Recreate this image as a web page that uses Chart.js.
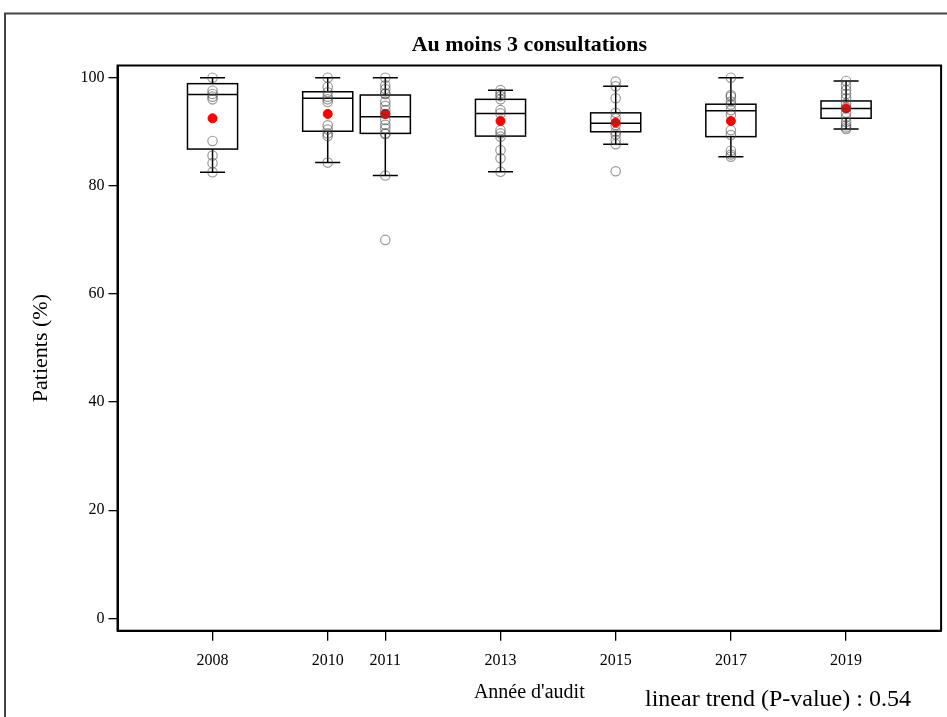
<!DOCTYPE html>
<html>
<head>
<meta charset="utf-8">
<script src="https://cdn.jsdelivr.net/npm/chart.js@4"></script>
<style>
  body { margin: 0; background: #fff; }
  canvas { display: block; }
</style>
</head>
<body>
<canvas id="chart" width="947" height="717"></canvas>
<script>
// audit years and box statistics (% of patients)
const years = [2008, 2010, 2011, 2013, 2015, 2017, 2019];
const whiskerHigh = [100, 100, 100, 97.7, 98.4, 100, 99.4];
const q3 = [98.9, 97.4, 96.8, 96.0, 93.5, 95.1, 95.7];
const medians = [96.9, 96.2, 92.8, 93.4, 91.6, 93.9, 94.3];
const q1 = [86.8, 90.1, 89.7, 89.2, 90.0, 89.1, 92.5];
const whiskerLow = [82.5, 84.3, 81.9, 82.6, 87.7, 85.4, 90.5];
const means = [92.5, 93.3, 93.3, 92.0, 91.7, 92.0, 94.3];

// individual centre values per year
const points2008 = [100, 97.6, 97.0, 96.5, 96.0, 88.3, 85.6, 84.2, 82.5];
const points2010 = [100, 98.3, 97.3, 96.5, 96.0, 95.5, 91.2, 90.4, 89.7, 89.2, 84.3];
const points2011 = [100, 98.6, 97.9, 97.1, 97.0, 95.6, 94.8, 94.0, 93.3, 92.2, 91.3, 90.6, 89.7, 89.6, 81.9, 70.0];
const points2013 = [97.7, 97.1, 96.6, 96.0, 94.0, 93.4, 90.3, 89.7, 89.1, 86.6, 85.1, 82.6];
const points2015 = [99.3, 98.4, 96.2, 93.5, 92.5, 91.2, 90.0, 89.5, 88.5, 87.7, 82.7];
const points2017 = [100, 96.8, 96.5, 95.6, 95.0, 94.0, 93.1, 90.3, 89.4, 86.5, 85.8, 85.4];
const points2019 = [99.4, 98.5, 97.7, 97.0, 96.2, 95.2, 94.5, 93.5, 92.7, 91.8, 91.2, 90.8, 90.5];
const pointsByYear = [points2008, points2010, points2011, points2013, points2015, points2017, points2019];

const yTicks = [0, 20, 40, 60, 80, 100];

const chartTitle = 'Au moins 3 consultations';
const trendNote = 'linear trend (P-value) : 0.54';
const serif = 'Liberation Serif';

const pointData = [];
pointsByYear.forEach((list, i) => {
    list.forEach(v => pointData.push({ x: years[i], y: v }));
});
const meanData = years.map((y, i) => ({ x: y, y: means[i] }));

// boxes and whiskers, drawn under the points
const boxPlugin = {
    id: 'boxes',
    beforeDatasetsDraw(chart) {
        const ctx = chart.ctx;
        const xs = chart.scales.x;
        const ys = chart.scales.y;
        ctx.save();
        ctx.strokeStyle = '#000';
        ctx.lineWidth = 1.5;
        years.forEach((yr, i) => {
            const x = xs.getPixelForValue(yr);
            const half = xs.getPixelForValue(yr + 0.435) - x;
            const cap = half / 2;
            const top = ys.getPixelForValue(q3[i]);
            const bot = ys.getPixelForValue(q1[i]);
            const med = ys.getPixelForValue(medians[i]);
            const hi = ys.getPixelForValue(whiskerHigh[i]);
            const lo = ys.getPixelForValue(whiskerLow[i]);
            ctx.strokeRect(x - half, top, half * 2, bot - top);
            ctx.beginPath();
            ctx.moveTo(x - half, med); ctx.lineTo(x + half, med);
            ctx.moveTo(x, top); ctx.lineTo(x, hi);
            ctx.moveTo(x - cap, hi); ctx.lineTo(x + cap, hi);
            ctx.moveTo(x, bot); ctx.lineTo(x, lo);
            ctx.moveTo(x - cap, lo); ctx.lineTo(x + cap, lo);
            ctx.stroke();
        });
        ctx.restore();
    }
};

// plot frame, outer frame, title (centred on the plot) and the trend note
const framePlugin = {
    id: 'frame',
    afterDraw(chart) {
        const ctx = chart.ctx;
        const a = chart.chartArea;
        ctx.save();
        ctx.strokeStyle = '#000';
        ctx.lineWidth = 2;
        ctx.strokeRect(a.left, a.top, a.right - a.left, a.bottom - a.top);
        ctx.strokeStyle = '#444';
        ctx.strokeRect(5, 13.5, 1000, 1000);
        ctx.fillStyle = '#000';
        ctx.font = 'bold 22px "' + serif + '"';
        ctx.textAlign = 'center';
        ctx.textBaseline = 'middle';
        ctx.fillText(chartTitle, (a.left + a.right) / 2, 45);
        ctx.font = '24px "' + serif + '"';
        ctx.textAlign = 'left';
        ctx.textBaseline = 'alphabetic';
        ctx.fillText(trendNote, 645, 706);
        ctx.restore();
    }
};

new Chart(document.getElementById('chart'), {
    type: 'scatter',
    data: {
        datasets: [
            {
                label: 'Centres',
                data: pointData,
                pointRadius: 4.7,
                borderWidth: 1.2,
                borderColor: 'rgba(70,70,70,0.55)',
                backgroundColor: 'rgba(0,0,0,0)'
            },
            {
                label: 'Moyenne',
                data: meanData,
                pointRadius: 4.5,
                borderWidth: 1,
                borderColor: '#ff0000',
                backgroundColor: '#ff0000'
            }
        ]
    },
    options: {
        responsive: false,
        animation: false,
        layout: { padding: { left: 0, right: 5, top: 65.5, bottom: 0 } },
        plugins: {
            legend: { display: false },
            tooltip: { enabled: false },
            title: { display: false }
        },
        scales: {
            x: {
                type: 'linear',
                min: 2006.35,
                max: 2020.65,
                afterBuildTicks: s => { s.ticks = years.map(v => ({ value: v })); },
                afterFit: s => { s.height = 86.3; },
                grid: { drawOnChartArea: false, drawTicks: true, tickLength: 10, color: '#000', lineWidth: 1.3 },
                border: { display: true, color: '#000', width: 2 },
                ticks: {
                    color: '#000',
                    font: { family: serif, size: 16 },
                    padding: 10,
                    autoSkip: false,
                    maxRotation: 0,
                    callback: v => String(v)
                },
                title: {
                    display: true,
                    text: "Année d'audit",
                    color: '#000',
                    font: { family: serif, size: 20 },
                    padding: { top: 0, bottom: 12 }
                }
            },
            y: {
                min: -2.29,
                max: 102.26,
                afterBuildTicks: s => { s.ticks = yTicks.map(v => ({ value: v })); },
                afterFit: s => { s.width = 117.5; },
                grid: { drawOnChartArea: false, drawTicks: true, tickLength: 9, color: '#000', lineWidth: 1.3 },
                border: { display: true, color: '#000', width: 2 },
                ticks: {
                    color: '#000',
                    font: { family: serif, size: 16 },
                    padding: 4,
                    callback: v => String(v)
                },
                title: {
                    display: true,
                    text: 'Patients (%)',
                    color: '#000',
                    font: { family: serif, size: 22 },
                    padding: { top: 28, bottom: 0 }
                }
            }
        }
    },
    plugins: [boxPlugin, framePlugin]
});
</script>
</body>
</html>
